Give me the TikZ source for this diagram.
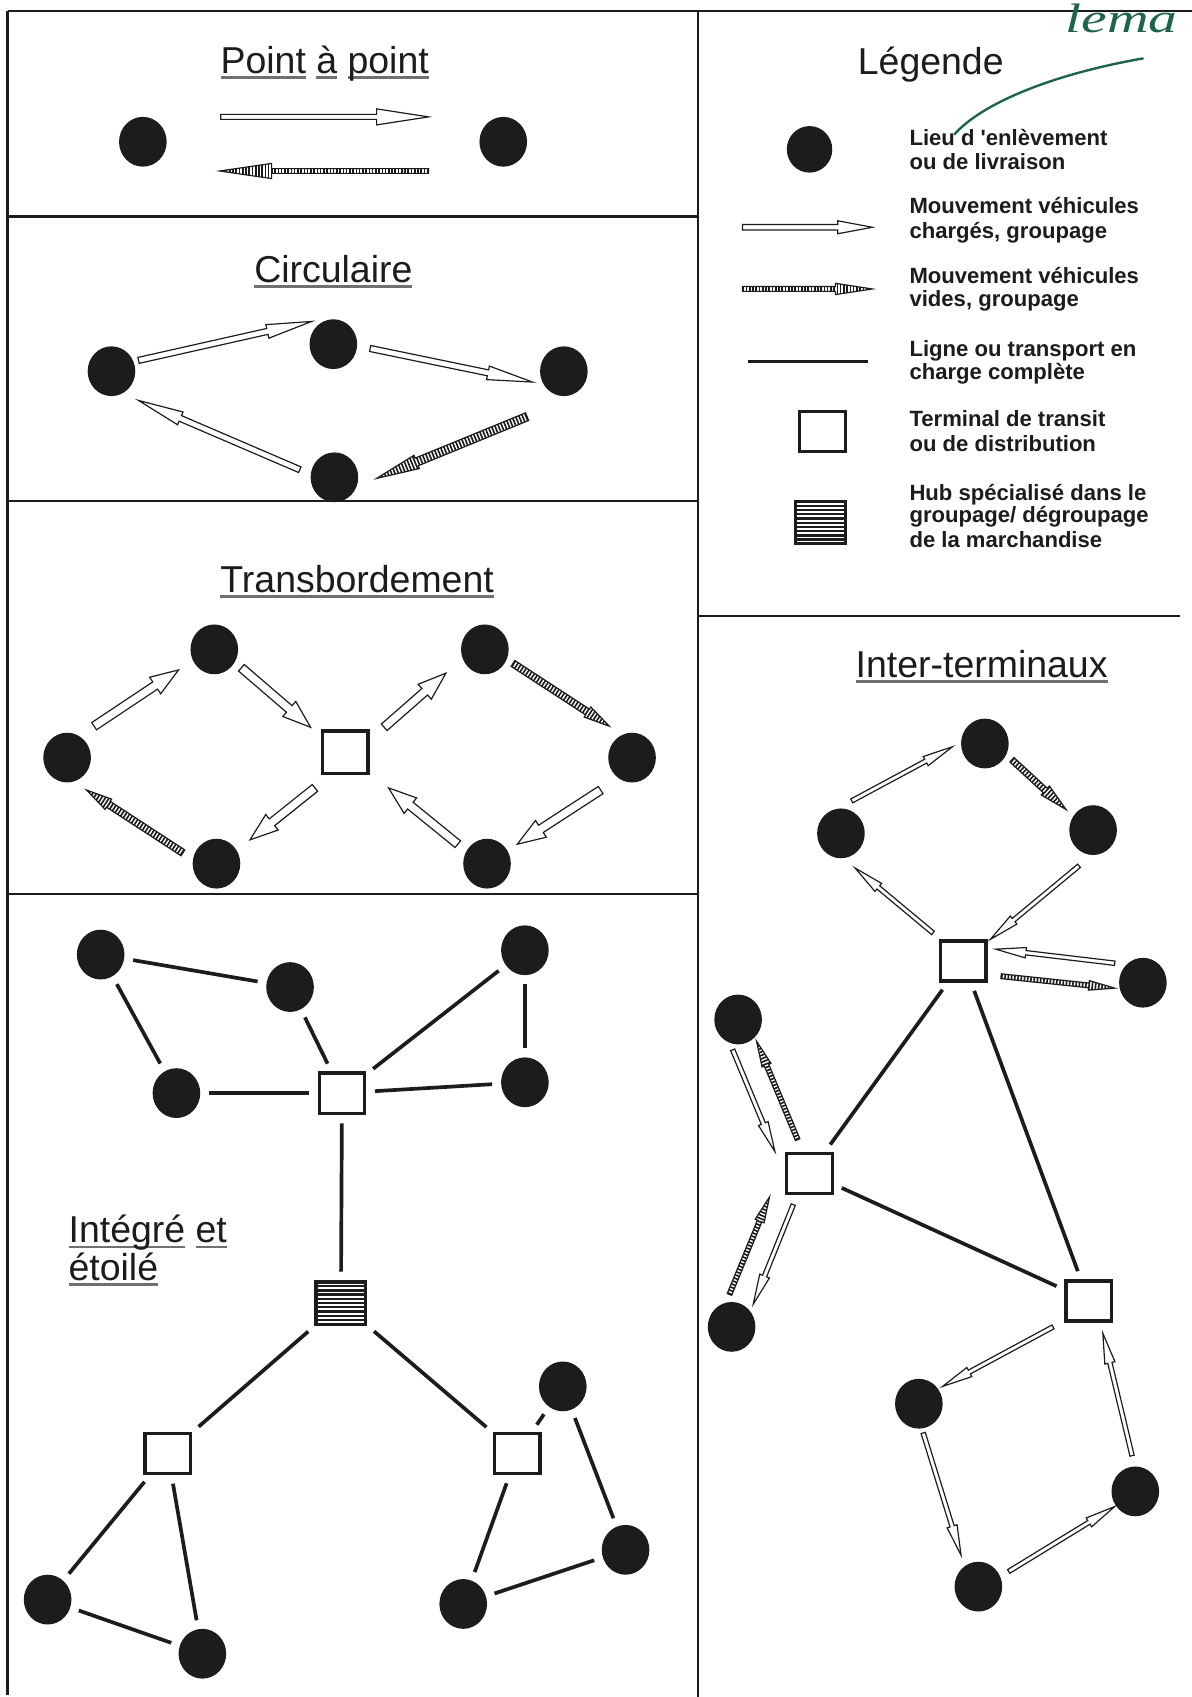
\documentclass[tikz,border=0pt]{standalone}
\usepackage{fontspec}
\setmainfont{Liberation Sans}
\newfontfamily\legfont{Liberation Sans}[Ligatures=TeXOff]
\newfontfamily\handfont{Liberation Serif}
\usetikzlibrary{calc,shapes.geometric}

\definecolor{ink}{HTML}{1C1C1C}
\definecolor{ulgray}{HTML}{707070}
\definecolor{pen}{HTML}{1E6446}

% word-by-word underline
\newcommand\wul[1]{\setbox0\hbox{#1}\rlap{\color{ulgray}\rule[-2.6pt]{\wd0}{1.3pt}}\box0\relax}

% arrow dimensions: shaft half-width, head half-width, head length
\newcommand\arrdims[3]{\def\aw{#1}\def\ahw{#2}\def\ahl{#3}}

% hollow arrow (loaded vehicles)
\newcommand\loadarr[2]{%
  \coordinate (hb) at ($(#2)!\ahl!(#1)$);
  \draw[arrowedge, fill=white]
    ($(#1)!\aw!90:(#2)$) -- ($(hb)!\aw!90:(#2)$) -- ($(hb)!\ahw!90:(#2)$) -- (#2)
    -- ($(hb)!\ahw!-90:(#2)$) -- ($(hb)!\aw!-90:(#2)$) -- ($(#1)!\aw!-90:(#2)$) -- cycle;}

% hatched arrow (empty vehicles)
\newcommand\emptyarr[2]{%
  \coordinate (hb) at ($(#2)!\ahl!(#1)$);
  \begin{scope}
    \clip ($(#1)!\aw!90:(#2)$) -- ($(hb)!\aw!90:(#2)$) -- ($(hb)!\ahw!90:(#2)$) -- (#2)
      -- ($(hb)!\ahw!-90:(#2)$) -- ($(hb)!\aw!-90:(#2)$) -- ($(#1)!\aw!-90:(#2)$) -- cycle;
    \draw[rungs] (#1) -- (#2);
  \end{scope}
  \draw[arrowedge]
    ($(#1)!\aw!90:(#2)$) -- ($(hb)!\aw!90:(#2)$) -- ($(hb)!\ahw!90:(#2)$) -- (#2)
    -- ($(hb)!\ahw!-90:(#2)$) -- ($(hb)!\aw!-90:(#2)$) -- ($(#1)!\aw!-90:(#2)$) -- cycle;}

\newcommand\ldarr[3]{\coordinate (#1s) at (#2); \coordinate (#1e) at (#3); \loadarr{#1s}{#1e}}
\newcommand\emarr[3]{\coordinate (#1s) at (#2); \coordinate (#1e) at (#3); \emptyarr{#1s}{#1e}}

\tikzset{
  frameline/.style={draw=ink, line width=1pt},
  dot/.style={ellipse, fill=ink, inner sep=0pt, minimum width=22pt, minimum height=23pt},
  term/.style={draw=ink, line width=1.5pt, fill=white, inner sep=0pt,
    minimum width=21pt, minimum height=18.5pt},
  hubbox/.style={term, minimum width=23pt, minimum height=19.5pt,
    path picture={\foreach \k in {1,...,9}{
      \draw[ink, line width=1.05pt]
        ($(path picture bounding box.south west)!\k/10!(path picture bounding box.north west)$) -- ++(80,0);}}},
  conn/.style={draw=ink, line width=1.7pt, shorten <=4pt, shorten >=4pt},
  arrowedge/.style={draw=ink, line width=0.55pt, line join=miter},
  rungs/.style={draw=ink, line width=20pt, dash pattern=on 0.75pt off 0.75pt},
  title/.style={font=\fontsize{17.3}{14.8}\selectfont, anchor=base, text=ink, inner sep=0pt},
  leg/.style={font=\legfont\bfseries\fontsize{10.2}{11.3}\selectfont, anchor=base west, inner sep=0pt, text=ink},
}

\begin{document}
\begin{tikzpicture}[x=0.5pt, y=-0.5pt]
\useasboundingbox (0,0) rectangle (1101,1568);
\fill[white] (0,0) rectangle (1101,1568);

% ---------- frame ----------
\draw[frameline] (7,10) -- (1101,10);
\draw[frameline] (7,10) -- (7,1566);
\draw[frameline] (645,10) -- (645,1568);
\draw[frameline] (7,200) -- (645,200);
\draw[frameline] (7,463) -- (645,463);
\draw[frameline] (7,826) -- (645,826);
\draw[frameline] (645,569) -- (1090,569);

% ---------- Point à point ----------
\node[title] (tpp) at (300,68) {\wul{Point} \wul{à} \wul{point}};
\node[dot] (pp1) at (132,131) {};
\node[dot] (pp2) at (465,131) {};
\arrdims{1.15pt}{3.7pt}{24pt}
\ldarr{ppa}{204,108}{396,108}
\arrdims{1.1pt}{3.5pt}{24pt}
\emarr{ppb}{396,158}{203,158}

% ---------- Légende ----------
\node[title] (tleg) at (860,69) {Légende};
\node[dot, minimum width=21pt, minimum height=21.5pt] (lgdot) at (748,138) {};
\arrdims{1.3pt}{3pt}{16pt}
\ldarr{lga}{686,210}{806,210}
\arrdims{1.1pt}{2.6pt}{17pt}
\emarr{lgb}{686,267}{806,267}
\coordinate (lgl1) at (691,334);
\coordinate (lgl2) at (802,334);
\draw[conn, shorten <=0pt, shorten >=0pt] (lgl1) -- (lgl2);
\node[term] (lgterm) at (760,399) {};
\node[hubbox] (lghub) at (758,483) {};
\node[leg] (lt1a) at (840,134) {Lieu d 'enlèvement};
\node[leg] (lt1b) at (840,157) {ou de livraison};
\node[leg] (lt2a) at (840,197) {Mouvement véhicules};
\node[leg] (lt2b) at (840,220) {chargés, groupage};
\node[leg] (lt3a) at (840,262) {Mouvement véhicules};
\node[leg] (lt3b) at (840,283) {vides, groupage};
\node[leg] (lt4a) at (840,329) {Ligne ou transport en};
\node[leg] (lt4b) at (840,351) {charge complète};
\node[leg] (lt5a) at (840,394) {Terminal de transit};
\node[leg] (lt5b) at (840,417) {ou de distribution};
\node[leg] (lt6a) at (840,462) {Hub spécialisé dans le};
\node[leg] (lt6b) at (840,483) {groupage/ dégroupage};
\node[leg] (lt6c) at (840,506) {de la marchandise};

% pen annotation
\coordinate (pn1) at (882,124);
\coordinate (pn2) at (1056,54);
\draw[pen, line width=1.1pt, line cap=round] (pn1) .. controls (905,98) and (965,70) .. (pn2);
\node[text=pen, font=\handfont\itshape\fontsize{19}{19}\selectfont, anchor=base west, inner sep=0pt, xscale=1.4] (pnw) at (984,30) {lema};

% ---------- Circulaire ----------
\node[title] (tci) at (308,261) {\wul{Circulaire}};
\node[dot] (ca) at (103,343) {};
\node[dot] (cb) at (308,318) {};
\node[dot] (cc) at (521,343) {};
\node[dot] (cd) at (309,441) {};
\arrdims{1.4pt}{3.2pt}{21pt}
\ldarr{cab}{128,333}{288,297}
\ldarr{cbc}{342,322}{492,353}
\ldarr{cda}{277,434}{128,370}
\arrdims{1.9pt}{3.3pt}{20pt}
\emarr{ccd}{487,385}{348,442}

% ---------- Transbordement ----------
\node[title] (ttr) at (330,547) {\wul{Transbordement}};
\node[dot] (ttl) at (198,600) {};
\node[dot] (tl)  at (62,700) {};
\node[dot] (tbl) at (200,798) {};
\node[dot] (ttr2) at (448,600) {};
\node[dot] (tr)  at (584,700) {};
\node[dot] (tbr) at (450,798) {};
\node[term, minimum width=21pt, minimum height=19.5pt] (ts) at (319,695) {};
\arrdims{2pt}{4.6pt}{13pt}
\ldarr{ta1}{87,671}{165,619}
\ldarr{ta2}{223,617}{287,672}
\ldarr{ta3}{355,672}{412,622}
\ldarr{ta4}{555,730}{478,780}
\ldarr{ta5}{423,780}{359,728}
\ldarr{ta6}{291,728}{231,776}
\arrdims{1.6pt}{2.8pt}{12pt}
\emarr{tb1}{474,613}{563,671}
\emarr{tb2}{169,788}{80,730}

% ---------- Inter-terminaux ----------
\node[title] (tit) at (907,626) {\wul{Inter-terminaux}};
\node[dot] (it)  at (910,687) {};
\node[dot] (il)  at (777,770) {};
\node[dot] (ir)  at (1010,767) {};
\node[term] (is1) at (890,888) {};
\node[dot] (ifr) at (1056,908) {};
\node[dot] (iml) at (682,942) {};
\node[term] (is2) at (748,1084) {};
\node[term] (is3) at (1006,1202) {};
\node[dot] (ibl) at (676,1226) {};
\node[dot] (id1) at (849,1297) {};
\node[dot] (id2) at (1049,1378) {};
\node[dot] (id3) at (904,1466) {};
\draw[conn] (is1) -- (is2);
\draw[conn] (is1) -- (is3);
\draw[conn] (is2) -- (is3);
\arrdims{1pt}{2.4pt}{14pt}
\ldarr{ia1}{787,740}{880,690}
\ldarr{ia2}{997,800}{915,868}
\ldarr{ia3}{862,862}{790,802}
\ldarr{ia4}{1030,890}{920,877}
\ldarr{ia5}{677,970}{716,1064}
\ldarr{ia6}{733,1113}{696,1205}
\ldarr{ia7}{973,1226}{871,1281}
\ldarr{ia8}{853,1324}{888,1437}
\ldarr{ia9}{932,1452}{1030,1392}
\ldarr{ia10}{1046,1345}{1019,1232}
\arrdims{1.4pt}{2.8pt}{13pt}
\emarr{ib1}{935,702}{985,748}
\arrdims{1.1pt}{2.2pt}{12pt}
\emarr{ib2}{925,902}{1030,913}
\emarr{ib3}{737,1053}{699,962}
\emarr{ib4}{674,1196}{711,1106}

% ---------- Intégré et étoilé ----------
\node[title, anchor=base west, align=left] (tie) at (63,1183) {\wul{Intégré} \wul{et}\\\wul{étoilé}};
\node[dot] (g1) at (93,882) {};
\node[dot] (g2) at (268,912) {};
\node[dot] (g3) at (485,878) {};
\node[dot] (g4) at (163,1010) {};
\node[dot] (g5) at (485,1000) {};
\node[term] (gs1) at (316,1010) {};
\node[hubbox] (gh) at (315,1204) {};
\node[term] (gs2) at (155,1343) {};
\node[term] (gs3) at (478,1343) {};
\node[dot] (g6) at (520,1281) {};
\node[dot] (g7) at (578,1432) {};
\node[dot] (g8) at (44,1478) {};
\node[dot] (g9) at (187,1528) {};
\node[dot] (g10) at (428,1482) {};
\draw[conn] (g1) -- (g2);
\draw[conn] (g1) -- (g4);
\draw[conn] (g2) -- (gs1);
\draw[conn] (g4) -- (gs1);
\draw[conn] (g3) -- (gs1);
\draw[conn] (g3) -- (g5);
\draw[conn] (g5) -- (gs1);
\draw[conn] (gs1) -- (gh);
\draw[conn] (gh) -- (gs2);
\draw[conn] (gh) -- (gs3);
\draw[conn] (gs2) -- (g8);
\draw[conn] (gs2) -- (g9);
\draw[conn] (g8) -- (g9);
\draw[conn] (gs3) -- (g6);
\draw[conn] (g6) -- (g7);
\draw[conn] (gs3) -- (g10);
\draw[conn] (g10) -- (g7);
\end{tikzpicture}
\end{document}
